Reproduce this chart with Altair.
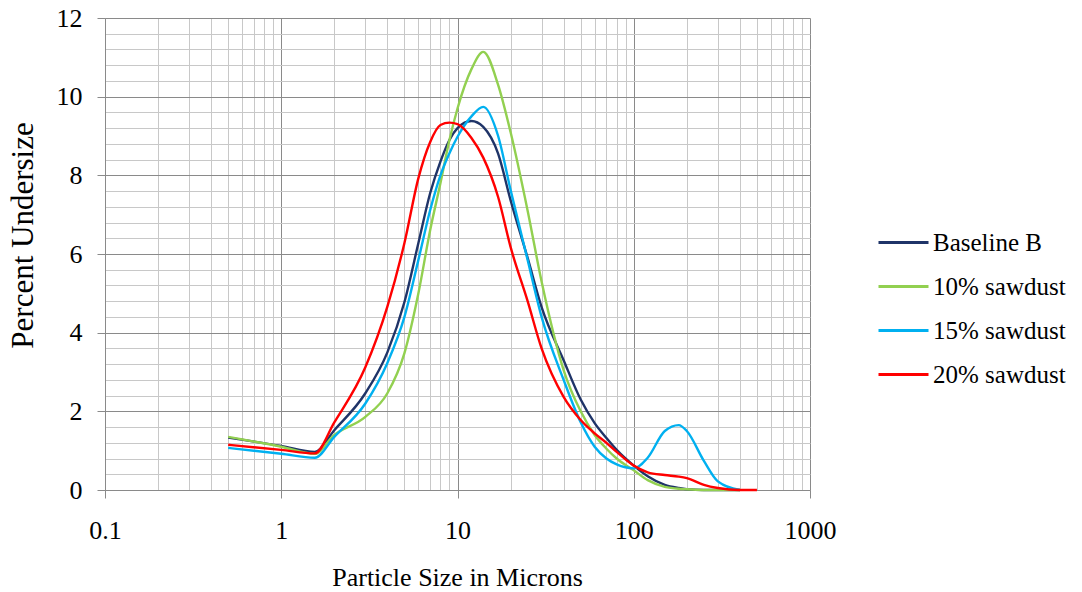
import altair as alt
import pandas as pd

# Particle size (microns) sample points
sizes = [0.5, 1.0, 1.55, 2, 3, 4, 5, 6, 7, 8, 9, 10, 12, 14, 17, 20, 25, 30,
         40, 50, 60, 70, 80, 100, 120, 150, 180, 200, 250, 300, 400, 500]

baseline_b = [1.33, 1.12, 0.97, 1.52, 2.46, 3.5, 4.78, 6.28, 7.55, 8.35, 8.9, 9.2,
              9.38, 9.23, 8.55, 7.37, 5.9, 4.65, 3.3, 2.3, 1.7, 1.32, 1.02, 0.62,
              0.35, 0.13, 0.05, 0.02, 0.0, 0.0, 0.0, None]
sawdust_10 = [1.35, 1.1, 0.92, 1.4, 1.86, 2.46, 3.48, 5.0, 6.61, 7.8, 8.9, 9.7,
              10.7, 11.14, 10.3, 9.1, 7.1, 5.3, 3.05, 2.0, 1.4, 1.05, 0.8, 0.5,
              0.25, 0.08, 0.03, 0.02, 0.0, 0.0, 0.0, None]
sawdust_15 = [1.07, 0.92, 0.82, 1.35, 2.2, 3.23, 4.4, 5.85, 7.12, 8.0, 8.56, 8.98,
              9.5, 9.74, 9.0, 7.63, 5.85, 4.4, 2.8, 1.72, 1.1, 0.8, 0.65, 0.55,
              0.82, 1.5, 1.65, 1.5, 0.74, 0.22, 0.0, None]
sawdust_20 = [1.15, 1.02, 0.93, 1.72, 3.12, 4.66, 6.28, 7.93, 8.85, 9.28, 9.34, 9.3,
              8.95, 8.45, 7.45, 6.18, 4.8, 3.6, 2.37, 1.78, 1.44, 1.2, 0.97, 0.62,
              0.45, 0.38, 0.34, 0.3, 0.13, 0.05, 0.0, 0.0]

series_names = ["Baseline B", "10% sawdust", "15% sawdust", "20% sawdust"]
series_colors = ["#1F3468", "#92D050", "#00B0F0", "#FF0000"]

x_major = [0.1, 1, 10, 100, 1000]
x_minor = [m * 10 ** e for e in range(-1, 3) for m in range(2, 10)]
y_major = [0, 2, 4, 6, 8, 10, 12]
y_minor = [round(i * 0.4, 1) for i in range(31) if i % 5 != 0]

rows = []
for name, vals in zip(series_names, [baseline_b, sawdust_10, sawdust_15, sawdust_20]):
    for i, (s, v) in enumerate(zip(sizes, vals)):
        if v is not None:
            rows.append({"size": s, "pct": v, "series": name, "order": i})
df = pd.DataFrame(rows)

FONT = "Liberation Serif"
MAJOR = "#8a8a8a"
MINOR = "#c8c8c8"

xs = alt.Scale(type="log", domain=[0.1, 1000], nice=False)
ys = alt.Scale(domain=[0, 12], nice=False, zero=True)

minor = alt.Chart(df).mark_line(opacity=0).encode(
    x=alt.X("size:Q", scale=xs, axis=alt.Axis(
        orient="top", values=x_minor, grid=True, gridColor=MINOR, gridWidth=1,
        labels=False, ticks=False, domain=False, title="")),
    y=alt.Y("pct:Q", scale=ys, axis=alt.Axis(
        orient="right", values=y_minor, grid=True, gridColor=MINOR, gridWidth=1,
        labels=False, ticks=False, domain=False, title="")),
    detail="series:N",
)

lines = alt.Chart(df).mark_line(strokeWidth=2.4, interpolate="monotone").encode(
    x=alt.X("size:Q", scale=xs, axis=alt.Axis(
        orient="bottom", values=x_major, format="~g", grid=True, gridColor=MAJOR,
        gridWidth=1, domainColor=MAJOR, tickColor=MAJOR, tickSize=8,
        labelFont=FONT, labelFontSize=26, labelColor="black", labelPadding=40,
        labelBaseline="alphabetic", labelFlush=False, labelOverlap=False,
        title="Particle Size in Microns", titleFont=FONT, titleFontSize=26,
        titleFontWeight="normal", titleColor="black", titleX=352, titleY=95,
        titleBaseline="alphabetic", titleAlign="center")),
    y=alt.Y("pct:Q", scale=ys, axis=alt.Axis(
        orient="left", values=y_major, grid=True, gridColor=MAJOR, gridWidth=1,
        domainColor=MAJOR, tickColor=MAJOR, tickSize=8,
        labelFont=FONT, labelFontSize=26, labelColor="black", labelPadding=15,
        labelOverlap=False,
        title="Percent Undersize", titleFont=FONT, titleFontSize=31,
        titleFontWeight="normal", titleColor="black", titleX=-82, titleY=217,
        titleAngle=270, titleBaseline="middle", titleAlign="center")),
    color=alt.Color("series:N", scale=alt.Scale(domain=series_names, range=series_colors),
                    legend=alt.Legend(
                        title=None, orient="none", legendX=772, legendY=198,
                        symbolType="stroke", symbolSize=2500, symbolStrokeWidth=3,
                        labelFont=FONT, labelFontSize=25, labelColor="black",
                        labelOffset=3, rowPadding=4)),
    order="order:Q",
)

chart = alt.layer(minor, lines).resolve_axis(
    x="independent", y="independent"
).properties(
    width=705, height=472,
    autosize=alt.AutoSizeParams(type="none"),
    padding={"left": 105, "top": 18, "right": 272, "bottom": 102},
).configure(font=FONT).configure_view(stroke=None).configure_legend(
    labelFont=FONT, labelFontSize=25, labelColor="black"
).configure_axis(labelFont=FONT, titleFont=FONT)

chart.save("out.html", embed_options={"renderer": "svg", "actions": False})
